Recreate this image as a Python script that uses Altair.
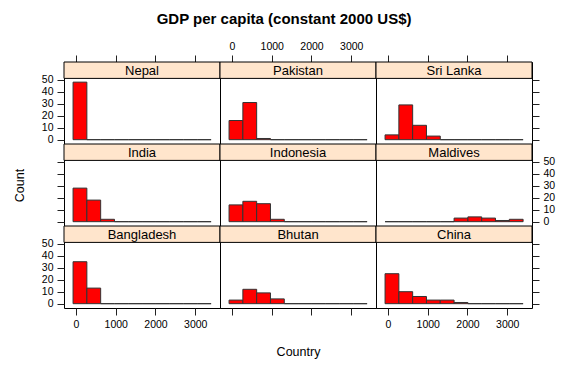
import altair as alt
import pandas as pd

# ---- data ----
countries = ["Nepal", "Pakistan", "Sri Lanka",
             "India", "Indonesia", "Maldives",
             "Bangladesh", "Bhutan", "China"]
bin_edges = [-75, 272.5, 620, 967.5, 1315, 1662.5, 2010, 2357.5, 2705, 3052.5, 3400]
nepal      = [48, 0, 0, 0, 0, 0, 0, 0, 0, 0]
pakistan   = [16, 31, 1, 0, 0, 0, 0, 0, 0, 0]
sri_lanka  = [4, 29, 12, 3, 0, 0, 0, 0, 0, 0]
india      = [28, 18, 2, 0, 0, 0, 0, 0, 0, 0]
indonesia  = [14, 17, 15, 2, 0, 0, 0, 0, 0, 0]
maldives   = [0, 0, 0, 0, 0, 3, 4, 3, 1, 2]
bangladesh = [35, 13, 0, 0, 0, 0, 0, 0, 0, 0]
bhutan     = [3, 12, 9, 4, 0, 0, 0, 0, 0, 0]
china      = [25, 10, 6, 3, 3, 1, 0, 0, 0, 0]
counts = [nepal, pakistan, sri_lanka, india, indonesia, maldives,
          bangladesh, bhutan, china]
x_ticks = [0, 1000, 2000, 3000]
y_ticks = [0, 10, 20, 30, 40, 50]

FONT = "Liberation Sans"
W, H = 156, 82
STRIP_PX = 16.4
XDOM = [-303, 3624]
YDOM = [-3.6, 64.8]


def make_axis(orient, labels, ticks, title=None, title_pad=0):
    kw = dict(orient=orient, values=ticks, labels=labels, domain=False,
              grid=False, ticks=True, tickSize=7, tickColor="#222222",
              tickWidth=1, labelFont=FONT, labelFontSize=10.5, format="d",
              labelColor="black", labelPadding=4, labelFlush=False,
              labelOverlap=False)
    if title:
        kw.update(title=title, titleFont=FONT, titleFontSize=12.5,
                  titleFontWeight="normal", titleColor="black",
                  titlePadding=title_pad)
    else:
        kw.update(title=None)
    return alt.Axis(**kw)


# axis layout per panel (lattice alternating style)
spec = {
    "Nepal":      dict(x=("top", False), y=("left", True)),
    "Pakistan":   dict(x=("top", True), y=None),
    "Sri Lanka":  dict(x=("top", False), y=("right", False)),
    "India":      dict(x=None, y=("left", False)),
    "Indonesia":  dict(x=None, y=None),
    "Maldives":   dict(x=None, y=("right", True)),
    "Bangladesh": dict(x=("bottom", True), y=("left", True)),
    "Bhutan":     dict(x=("bottom", False), y=None),
    "China":      dict(x=("bottom", True), y=("right", False)),
}

panels = []
for name, cnt in zip(countries, counts):
    df = pd.DataFrame({"x0": bin_edges[:-1], "x1": bin_edges[1:], "n": cnt})
    s = spec[name]
    if s["x"] is None:
        xaxis = None
    else:
        title = "Country" if name == "Bhutan" else None
        xaxis = make_axis(s["x"][0], s["x"][1], x_ticks, title, 30)
    if s["y"] is None:
        yaxis = None
    else:
        title = "Count" if name == "India" else None
        yaxis = make_axis(s["y"][0], s["y"][1], y_ticks, title, 30)

    bars = alt.Chart(df).mark_rect(
        fill="#FF0000", stroke="#333333", strokeWidth=1
    ).encode(
        x=alt.X("x0:Q", scale=alt.Scale(domain=XDOM, nice=False, zero=False),
                axis=xaxis),
        x2="x1:Q",
        y=alt.Y("n:Q", scale=alt.Scale(domain=YDOM, nice=False, zero=False),
                axis=yaxis),
        y2=alt.datum(0),
    )
    strip = alt.Chart(pd.DataFrame({"name": [name]})).mark_rect(
        fill="#FFE5CC", stroke="black", strokeWidth=1
    ).encode(
        x=alt.value(0), x2=alt.value(W),
        y=alt.value(0), y2=alt.value(STRIP_PX),
    )
    label = alt.Chart(pd.DataFrame({"name": [name]})).mark_text(
        font=FONT, fontSize=13, color="black", baseline="middle", align="center"
    ).encode(
        x=alt.value(W / 2), y=alt.value(STRIP_PX / 2 + 0.5), text="name:N"
    )
    panels.append(
        alt.layer(bars, strip, label).properties(
            width=W, height=H,
            view=alt.ViewBackground(stroke="black", strokeWidth=1)
        )
    )

chart = alt.concat(
    *panels, columns=3, spacing=0, bounds="flush"
).properties(
    padding={"left": 5, "top": 3, "right": 5, "bottom": 5},
    title=alt.TitleParams("GDP per capita (constant 2000 US$)", font=FONT,
                          fontSize=15, fontWeight="bold", color="black",
                          anchor="middle", offset=14)
).configure_view(
    stroke="black", strokeWidth=1
).configure(background="white")

chart.save("out.html", embed_options={"renderer": "svg", "actions": False})
